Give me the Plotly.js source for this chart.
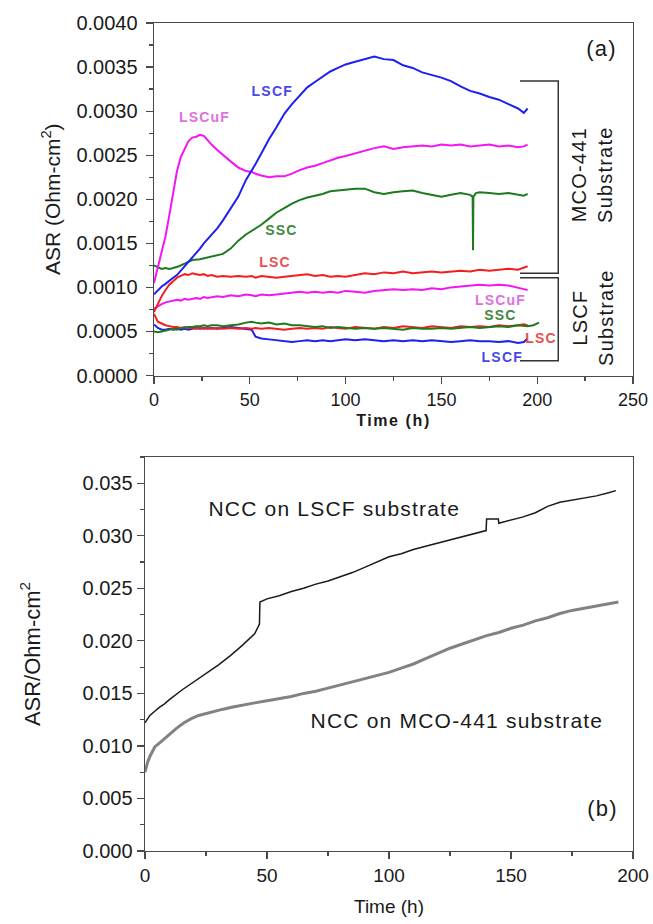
<!DOCTYPE html>
<html>
<head>
<meta charset="utf-8">
<script src="https://cdn.plot.ly/plotly-3.0.1.min.js"></script>
<style>
html,body{margin:0;padding:0;background:#fff;}
#chart{width:653px;height:924px;}
#chart .annotation-text{letter-spacing:1.2px;}
#chart .g-xtitle text{letter-spacing:1.6px;}
</style>
</head>
<body>
<div id="chart"></div>
<script>
// ---------- Panel (a): time axis shared by most series (h) ----------
const TIME_A = [0,2,4,6,8,10,12,14,16,18,20,22,24,26,28,30,33,36,40,44,48,51,53,56,60,64,68,72,76,80,84,88,92,96,100,105,110,115,120,125,130,135,140,145,150,155,160,165,170,175,180,185,190,193,195];

// MCO-441 substrate
const LSCF_MCO = [0.00092,0.00097,0.00101,0.00104,0.00108,0.00111,0.00114,0.00119,0.00123,0.00128,0.00133,0.00138,0.00144,0.00150,0.00155,0.00159,0.00167,0.00176,0.00189,0.00203,0.00222,0.00232,0.00240,0.00252,0.00268,0.00282,0.00297,0.00308,0.00318,0.00327,0.00333,0.00339,0.00345,0.00349,0.00353,0.00356,0.00359,0.00362,0.00359,0.00358,0.00352,0.00349,0.00344,0.00341,0.00338,0.00334,0.00328,0.00323,0.00320,0.00316,0.00313,0.00308,0.00303,0.00298,0.00303];
const LSCUF_MCO = [0.00105,0.00122,0.00140,0.00158,0.00182,0.00208,0.00232,0.00248,0.00258,0.00266,0.00270,0.00271,0.00273,0.00272,0.00267,0.00262,0.00256,0.00250,0.00243,0.00236,0.00232,0.00231,0.00229,0.00227,0.00225,0.00226,0.00226,0.00229,0.00233,0.00236,0.00238,0.00241,0.00244,0.00247,0.00249,0.00252,0.00255,0.00258,0.00260,0.00257,0.00259,0.00260,0.00261,0.00260,0.00262,0.00261,0.00262,0.00260,0.00261,0.00262,0.00260,0.00261,0.00259,0.00260,0.00262];
const LSC_MCO = [0.00072,0.00082,0.00090,0.00097,0.00103,0.00107,0.00111,0.00113,0.00115,0.00114,0.00116,0.00115,0.00114,0.00115,0.00113,0.00114,0.00112,0.00113,0.00112,0.00113,0.00112,0.00113,0.00111,0.00113,0.00112,0.00111,0.00112,0.00113,0.00114,0.00115,0.00113,0.00114,0.00112,0.00113,0.00112,0.00114,0.00116,0.00115,0.00117,0.00116,0.00118,0.00116,0.00117,0.00118,0.00117,0.00118,0.00119,0.00118,0.00120,0.00119,0.00120,0.00121,0.00120,0.00122,0.00124];
const TIME_SSC_MCO = [0,2,4,6,8,10,13,16,20,24,28,32,36,40,44,48,51,56,60,64,68,72,76,80,84,88,92,96,100,105,110,115,120,125,130,135,140,145,150,155,160,165,166.3,166.5,166.7,168,170,175,180,185,190,193,195];
const SSC_MCO = [0.00125,0.00123,0.00121,0.00122,0.00121,0.00122,0.00124,0.00127,0.00131,0.00132,0.00134,0.00136,0.00138,0.00144,0.00153,0.00160,0.00164,0.00171,0.00178,0.00185,0.00190,0.00195,0.00199,0.00202,0.00204,0.00206,0.00209,0.00210,0.00211,0.00212,0.00212,0.00208,0.00206,0.00208,0.00209,0.00210,0.00207,0.00205,0.00203,0.00205,0.00207,0.00205,0.00203,0.00142,0.00203,0.00207,0.00208,0.00207,0.00206,0.00207,0.00205,0.00204,0.00206];

// LSCF substrate
const LSCUF_LSCF = [0.00076,0.00079,0.00081,0.00083,0.00084,0.00085,0.00086,0.00085,0.00087,0.00086,0.00087,0.00088,0.00087,0.00089,0.00088,0.00089,0.00090,0.00089,0.00091,0.00090,0.00092,0.00091,0.00090,0.00092,0.00091,0.00092,0.00093,0.00094,0.00095,0.00094,0.00095,0.00094,0.00095,0.00094,0.00096,0.00095,0.00094,0.00096,0.00097,0.00098,0.00097,0.00098,0.00097,0.00099,0.00098,0.00100,0.00101,0.00102,0.00103,0.00102,0.00103,0.00102,0.00100,0.00098,0.00097];
const TIME_SSC_LSCF = [0,2,4,6,8,10,12,14,16,18,20,22,24,26,28,30,33,36,40,44,48,51,53,56,60,64,68,72,76,80,84,88,92,96,100,105,110,115,120,125,130,135,140,145,150,155,160,165,170,175,180,185,190,195,198,201];
const SSC_LSCF = [0.00050,0.00049,0.00050,0.00051,0.00052,0.00053,0.00052,0.00054,0.00054,0.00055,0.00055,0.00056,0.00056,0.00057,0.00056,0.00057,0.00057,0.00056,0.00057,0.00058,0.00060,0.00061,0.00060,0.00059,0.00060,0.00058,0.00059,0.00057,0.00057,0.00056,0.00055,0.00056,0.00054,0.00055,0.00054,0.00053,0.00054,0.00053,0.00054,0.00053,0.00052,0.00054,0.00053,0.00053,0.00054,0.00053,0.00054,0.00055,0.00054,0.00055,0.00056,0.00055,0.00057,0.00056,0.00057,0.00060];
const LSC_LSCF = [0.00070,0.00061,0.00059,0.00057,0.00056,0.00055,0.00055,0.00054,0.00055,0.00054,0.00054,0.00053,0.00054,0.00053,0.00054,0.00053,0.00054,0.00053,0.00054,0.00053,0.00054,0.00053,0.00054,0.00053,0.00054,0.00053,0.00052,0.00053,0.00054,0.00053,0.00054,0.00053,0.00055,0.00054,0.00053,0.00055,0.00054,0.00053,0.00055,0.00054,0.00056,0.00055,0.00054,0.00056,0.00055,0.00054,0.00056,0.00055,0.00056,0.00055,0.00057,0.00056,0.00057,0.00058,0.00057];
const LSCF_LSCF = [0.00058,0.00054,0.00052,0.00052,0.00053,0.00052,0.00053,0.00052,0.00053,0.00052,0.00053,0.00054,0.00053,0.00054,0.00053,0.00054,0.00053,0.00054,0.00055,0.00054,0.00053,0.00052,0.00044,0.00042,0.00041,0.00040,0.00039,0.00038,0.00039,0.00040,0.00039,0.00040,0.00039,0.00040,0.00041,0.00040,0.00041,0.00040,0.00039,0.00040,0.00039,0.00040,0.00039,0.00040,0.00039,0.00038,0.00039,0.00040,0.00039,0.00039,0.00038,0.00039,0.00037,0.00038,0.00042];

// ---------- Panel (b) ----------
const TIME_NCC_LSCF = [0,1,2,4,6,8,10,15,20,25,30,35,40,45,46.9,47.1,50,55,60,65,70,75,80,85,90,95,100,105,110,115,120,125,130,135,139.8,140,144.8,145,150,155,160,165,170,175,180,185,190,193];
const NCC_LSCF = [0.0122,0.0126,0.0129,0.0133,0.0137,0.0140,0.0144,0.0153,0.0161,0.0169,0.0177,0.0186,0.0196,0.0207,0.0216,0.0237,0.0240,0.0243,0.0247,0.0250,0.0254,0.0257,0.0261,0.0265,0.0270,0.0275,0.0280,0.0283,0.0287,0.0290,0.0293,0.0296,0.0299,0.0302,0.0305,0.0316,0.0316,0.0312,0.0315,0.0318,0.0322,0.0328,0.0332,0.0334,0.0336,0.0338,0.0341,0.0343];
const TIME_NCC_MCO = [0,0.5,1,2,3,4,6,8,10,13,16,19,22,25,28,32,36,40,45,50,55,60,65,70,75,80,85,90,95,100,105,110,115,120,125,130,135,140,145,150,155,160,165,170,175,180,185,190,194];
const NCC_MCO = [0.0075,0.0080,0.0084,0.0090,0.0095,0.0099,0.0103,0.0107,0.0111,0.0117,0.0122,0.0126,0.0129,0.0131,0.0133,0.0135,0.0137,0.0139,0.0141,0.0143,0.0145,0.0147,0.0150,0.0152,0.0155,0.0158,0.0161,0.0164,0.0167,0.0170,0.0174,0.0178,0.0183,0.0188,0.0193,0.0197,0.0201,0.0205,0.0208,0.0212,0.0215,0.0219,0.0222,0.0226,0.0229,0.0231,0.0233,0.0235,0.0237];

// ---------- styling ----------
const FONT = 'Liberation Sans, Arial, Helvetica, sans-serif';
const C = {blue:'#1f1fef', mag:'#f414f4', green:'#1e7a1e', red:'#f51e1e'};
const CL = {blue:'#4848e8', mag:'#e070e0', green:'#3f8a3f', red:'#e85050'};

function line(x, y, color, w, xa, ya, name){
  return {x:x, y:y, type:'scatter', mode:'lines', name:name,
          line:{color:color, width:w}, xaxis:xa, yaxis:ya, hoverinfo:'skip'};
}

const traces = [
  line(TIME_A, LSCF_LSCF, C.blue, 2, 'x','y','LSCF on LSCF'),
  line(TIME_A, LSC_LSCF, C.red, 2, 'x','y','LSC on LSCF'),
  line(TIME_SSC_LSCF, SSC_LSCF, C.green, 2, 'x','y','SSC on LSCF'),
  line(TIME_A, LSCUF_LSCF, C.mag, 2, 'x','y','LSCuF on LSCF'),
  line(TIME_A, LSC_MCO, C.red, 2, 'x','y','LSC on MCO-441'),
  line(TIME_SSC_MCO, SSC_MCO, C.green, 2, 'x','y','SSC on MCO-441'),
  line(TIME_A, LSCUF_MCO, C.mag, 2, 'x','y','LSCuF on MCO-441'),
  line(TIME_A, LSCF_MCO, C.blue, 2, 'x','y','LSCF on MCO-441'),
  line(TIME_NCC_MCO, NCC_MCO, '#828282', 3, 'x2','y2','NCC on MCO-441'),
  line(TIME_NCC_LSCF, NCC_LSCF, '#1a1a1a', 1.5, 'x2','y2','NCC on LSCF')
];

function lab(text, x, y, color){
  return {text:text, x:x, y:y, xref:'x', yref:'y', showarrow:false,
          font:{family:FONT, size:14, color:color, weight:'bold'},
          xanchor:'center', yanchor:'middle'};
}

const axisCommon = {
  showgrid:false, zeroline:false, showline:true, mirror:true,
  linecolor:'#4a4a4a', linewidth:1.4, ticks:'outside', ticklen:7, tickwidth:1.2,
  tickcolor:'#4a4a4a'
};

const layout = {
  width:653, height:924, margin:{l:0,r:0,t:0,b:0},
  paper_bgcolor:'#fff', plot_bgcolor:'#fff', showlegend:false,
  font:{family:FONT, color:'#1a1a1a'},
  xaxis: Object.assign({}, axisCommon, {
    domain:[154/653, 633/653], anchor:'y', range:[0,250], dtick:50, tick0:0,
    tickfont:{size:18, family:FONT},
    minor:{dtick:25, ticks:'outside', ticklen:4, tickcolor:'#4a4a4a'},
    title:{text:'Time (h)', font:{size:16, family:FONT, weight:'bold'}, standoff:6}
  }),
  yaxis: Object.assign({}, axisCommon, {
    domain:[1-375.5/924, 1-23/924], anchor:'x', range:[0,0.004], dtick:0.0005, tick0:0,
    tickformat:'.4f', tickfont:{size:20, family:FONT}, ticklabelstandoff:4,
    minor:{dtick:0.00025, ticks:'outside', ticklen:4, tickcolor:'#4a4a4a'},
    title:{text:'ASR (Ohm-cm<sup>2</sup>)', font:{size:21, family:FONT}, standoff:10}
  }),
  xaxis2: Object.assign({}, axisCommon, {
    domain:[145/653, 633/653], anchor:'y2', range:[0,200], dtick:50, tick0:0,
    tickfont:{size:19, family:FONT},
    minor:{dtick:25, ticks:'outside', ticklen:4, tickcolor:'#4a4a4a'},
    title:{text:'Time (h)', font:{size:19, family:FONT}, standoff:14}
  }),
  yaxis2: Object.assign({}, axisCommon, {
    domain:[1-851/924, 1-457/924], anchor:'x2', range:[0,0.0375], dtick:0.005, tick0:0,
    tickformat:'.3f', tickfont:{size:20, family:FONT},
    minor:{dtick:0.0025, ticks:'outside', ticklen:4, tickcolor:'#4a4a4a'},
    title:{text:'ASR/Ohm-cm<sup>2</sup>', font:{size:22, family:FONT}, standoff:36}
  }),
  shapes:[
    {type:'path', xref:'x', yref:'y', path:'M191,0.003343 L211,0.003343 L211,0.00116 L191,0.00116',
     line:{color:'#333', width:1.5}},
    {type:'path', xref:'x', yref:'y', path:'M191,0.00111 L211,0.00111 L211,0.000168 L191,0.000168',
     line:{color:'#333', width:1.5}}
  ],
  annotations:[
    lab('LSCF', 62.1, 0.00323, CL.blue),
    lab('LSCuF', 26.6, 0.00293, CL.mag),
    lab('SSC', 66.6, 0.00165, CL.green),
    lab('LSC', 63.2, 0.00129, CL.red),
    lab('LSCuF', 181, 0.000857, CL.mag),
    lab('SSC', 180.6, 0.000687, CL.green),
    lab('LSC', 202, 0.000425, CL.red),
    lab('LSCF', 181.7, 0.00021, CL.blue),
    {text:'(a)', x:233.5, y:0.003714, xref:'x', yref:'y', showarrow:false,
     font:{family:FONT, size:22, color:'#1a1a1a'}},
    {text:'MCO-441<br>Substrate', x:228.9, y:0.002281, xref:'x', yref:'y', showarrow:false,
     textangle:-90, font:{family:FONT, size:20, color:'#1a1a1a'}},
    {text:'LSCF<br>Substrate', x:228.9, y:0.000653, xref:'x', yref:'y', showarrow:false,
     textangle:-90, font:{family:FONT, size:20, color:'#1a1a1a'}},
    {text:'NCC on LSCF substrate', x:30.3, y:0.0326, xref:'x2', yref:'y2', showarrow:false,
     xanchor:'left', font:{family:FONT, size:21, color:'#1a1a1a'}},
    {text:'NCC on MCO-441 substrate', x:72.9, y:0.01245, xref:'x2', yref:'y2', showarrow:false,
     xanchor:'left', font:{family:FONT, size:21, color:'#1a1a1a'}},
    {text:'(b)', x:187.3, y:0.00409, xref:'x2', yref:'y2', showarrow:false,
     font:{family:FONT, size:22, color:'#1a1a1a'}}
  ]
};

Plotly.newPlot('chart', traces, layout, {staticPlot:true, displayModeBar:false});
</script>
</body>
</html>
